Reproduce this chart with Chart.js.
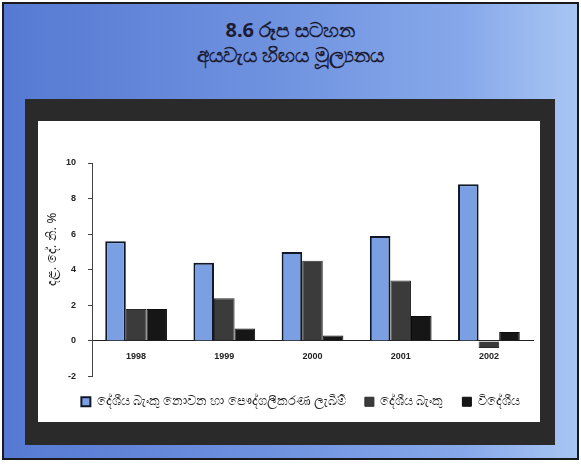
<!DOCTYPE html>
<html>
<head>
<meta charset="utf-8">
<script src="https://cdn.jsdelivr.net/npm/chart.js@4/dist/chart.umd.min.js"></script>
<style>
  html, body { margin: 0; padding: 0; background: #ffffff; }
  #frame {
    position: absolute; left: 2px; top: 2px; width: 573px; height: 454px;
    border: 2px solid #1a1a1a;
    background: linear-gradient(90deg, #5679d3 0%, #6e91df 45%, #86a8ea 80%, #a8c6f3 100%);
  }
  #title {
    position: absolute; left: 0; top: 17px; width: 581px; text-align: center;
    font-family: "Noto Sans", "DejaVu Sans", sans-serif; font-weight: bold;
    font-size: 20px; line-height: 25px; color: #1c1c34;
  }
  #panel {
    position: absolute; left: 25px; top: 99px; width: 530px; height: 346px;
    background: #2a2a2a;
  }
  #plot {
    position: absolute; left: 38px; top: 121px; width: 502px; height: 301px;
    background: #ffffff;
  }
  #c { position: absolute; left: 0; top: 0; }
</style>
</head>
<body>
<div id="frame"></div>
<div id="title">8.6 රූප සටහන<br>අයවැය හිඟය මූල්‍යනය</div>
<div id="panel"></div>
<div id="plot"><canvas id="c" width="502" height="301"></canvas></div>
<script>
// Budget deficit financing, per cent of GDP
const years = ['1998', '1999', '2000', '2001', '2002'];
const nonBankAndPrivatisation = [5.6, 4.4, 5.0, 5.9, 8.8];
const domesticBank = [1.8, 2.4, 4.5, 3.4, -0.4];
const foreign = [1.8, 0.7, 0.3, 1.4, 0.5];
const seriesNames = [
  'දේශීය බැංකු නොවන හා පෞද්ගලීකරණ ලැබීම්',
  'දේශීය බැංකු',
  'විදේශීය'
];
const yTicks = [-2, 0, 2, 4, 6, 8, 10];
// leading spaces lift the rotated axis title a little above the axis centre
const yTitle = '            දළ. දේ. නි. %';

const font = "'Liberation Sans', Arial, sans-serif";
const sinhalaFont = "'Noto Sans', sans-serif";

// nudge the legend row a little to the right of the canvas centre
const legendShift = {
  id: 'legendShift',
  afterLayout(chart) {
    const d = 15;
    chart.legend.left += d;
    chart.legend.right += d;
  }
};

new Chart(document.getElementById('c'), {
  type: 'bar',
  data: {
    labels: years,
    datasets: [
      { label: seriesNames[0], data: nonBankAndPrivatisation,
        backgroundColor: '#7b9fe3', borderColor: '#101828', borderWidth: 2 },
      { label: seriesNames[1], data: domesticBank,
        backgroundColor: '#3b3b3b', borderColor: '#2a2a2a', borderWidth: 1 },
      { label: seriesNames[2], data: foreign,
        backgroundColor: '#161616', borderColor: '#0c0c0c', borderWidth: 1 }
    ]
  },
  options: {
    responsive: false,
    animation: false,
    layout: { padding: { left: 0, top: 42, right: 7, bottom: 4 } },
    datasets: { bar: { categoryPercentage: 0.7, barPercentage: 1.0 } },
    scales: {
      x: {
        position: { y: 0 },
        grid: { display: false, drawTicks: false },
        border: { display: true, color: '#222', width: 1 },
        ticks: { color: '#222', font: { family: font, size: 9, weight: 'bold' }, padding: 10 }
      },
      y: {
        min: -2, max: 10,
        afterBuildTicks: s => { s.ticks = yTicks.map(v => ({ value: v })); },
        afterFit: s => { s.width = 54; },
        grid: { display: true, drawOnChartArea: false, drawTicks: true, tickLength: 4, color: '#444' },
        border: { display: true, color: '#444', width: 1 },
        ticks: { color: '#222', font: { family: font, size: 9, weight: 'bold' }, padding: 12 },
        title: { display: true, text: yTitle, color: '#222',
                 font: { family: sinhalaFont, size: 13 }, padding: { top: 6, bottom: 0 } }
      }
    },
    plugins: {
      legend: {
        position: 'bottom',
        labels: {
          boxWidth: 9, boxHeight: 9, padding: 19, color: '#222',
          font: { family: sinhalaFont, size: 12.5 }
        }
      },
      tooltip: { enabled: false }
    }
  },
  plugins: [legendShift]
});
</script>
</body>
</html>
